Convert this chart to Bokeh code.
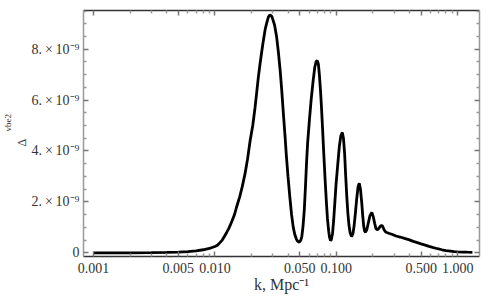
import math
from bokeh.plotting import figure
from bokeh.models import FixedTicker, LogAxis, LinearAxis, Range1d, Title
from bokeh.embed import file_html
from bokeh.resources import INLINE

# wavenumber k [Mpc^-1]
k_values = [0.001, 0.002, 0.003, 0.004, 0.005, 0.006, 0.007, 0.008, 0.009, 0.010,
            0.0105, 0.011, 0.0115, 0.012, 0.0125, 0.013, 0.0137, 0.0145, 0.0152, 0.016,
            0.0168, 0.0177, 0.0186, 0.0195, 0.0205, 0.0214, 0.0221, 0.0228, 0.0235, 0.0243,
            0.025, 0.026, 0.0268, 0.0276, 0.0284, 0.0295, 0.031, 0.0322, 0.0333, 0.0345,
            0.0355, 0.0366, 0.0377, 0.0388, 0.040, 0.0414, 0.0428, 0.0442, 0.0455, 0.0468,
            0.048, 0.0495, 0.051, 0.052, 0.0532, 0.0545, 0.0557, 0.0568, 0.058, 0.060,
            0.062, 0.0644, 0.0665, 0.0683, 0.0698, 0.0712, 0.0725, 0.074, 0.0753, 0.077,
            0.079, 0.081, 0.0828, 0.0845, 0.0865, 0.088, 0.0897, 0.091, 0.093, 0.095,
            0.097, 0.0995, 0.1033, 0.106, 0.109, 0.112, 0.1145, 0.117, 0.1195, 0.122,
            0.1245, 0.127, 0.130, 0.1335, 0.137, 0.140, 0.1435, 0.147, 0.151, 0.1545,
            0.158, 0.162, 0.165, 0.168, 0.171, 0.174, 0.178, 0.183, 0.189, 0.196,
            0.202, 0.207, 0.212, 0.217, 0.223, 0.230, 0.236, 0.240, 0.246, 0.252,
            0.257, 0.27, 0.29, 0.31, 0.335, 0.364, 0.40, 0.43, 0.465, 0.498,
            0.54, 0.58, 0.63, 0.682, 0.74, 0.8, 0.87, 0.933, 1.0, 1.1,
            1.2, 1.32]
# Delta_vbe^2 in units of 1e-9
delta_values_e9 = [0.0, 0.0, 0.005, 0.015, 0.03, 0.05, 0.08, 0.12, 0.17, 0.25,
                   0.30, 0.40, 0.50, 0.65, 0.80, 0.95, 1.2, 1.5, 1.85, 2.2,
                   2.6, 3.1, 3.7, 4.4, 5.0, 5.7, 6.3, 6.9, 7.4, 7.9,
                   8.3, 8.8, 9.05, 9.27, 9.35, 9.28, 8.95, 8.5, 7.9, 7.15,
                   6.4, 5.5, 4.67, 3.8, 3.0, 2.2, 1.5, 1.0, 0.72, 0.55,
                   0.45, 0.42, 0.5, 0.65, 1.05, 1.7, 2.6, 3.5, 4.3, 5.2,
                   6.0, 6.75, 7.3, 7.52, 7.55, 7.4, 7.0, 6.4, 5.8, 4.9,
                   3.8, 2.8, 2.0, 1.35, 0.85, 0.6, 0.48, 0.52, 0.75, 1.25,
                   1.9, 2.7, 3.6, 4.2, 4.6, 4.73, 4.5, 3.9, 3.0, 2.2,
                   1.55, 1.1, 0.78, 0.64, 0.75, 1.05, 1.55, 2.1, 2.6, 2.73,
                   2.5, 1.95, 1.45, 1.05, 0.85, 0.81, 0.9, 1.15, 1.45, 1.59,
                   1.4, 1.15, 0.95, 0.9, 0.95, 1.04, 1.07, 1.05, 0.93, 0.84,
                   0.81, 0.77, 0.72, 0.66, 0.62, 0.57, 0.51, 0.45, 0.40, 0.35,
                   0.30, 0.25, 0.20, 0.16, 0.12, 0.09, 0.07, 0.05, 0.04, 0.03,
                   0.025, 0.02]

x_major = [0.001, 0.005, 0.01, 0.05, 0.1, 0.5, 1.0]
x_major_labels = ["0.001", "0.005", "0.010", "0.050", "0.100", "0.500", "1.000"]
x_minor_mult = [2, 3, 4, 6, 7, 8, 9]
x_decades = [-3, -2, -1, 0]
y_major = [0, 2, 4, 6, 8]
y_major_labels = ["0", "2.\u2009×\u200910⁻⁹", "4.\u2009×\u200910⁻⁹",
                  "6.\u2009×\u200910⁻⁹", "8.\u2009×\u200910⁻⁹"]
y_minor = [0.5, 1, 1.5, 2.5, 3, 3.5, 4.5, 5, 5.5, 6.5, 7, 7.5, 8.5, 9, 9.5]

x_minor = [m * 10.0 ** e for e in x_decades for m in x_minor_mult]

FONT = "Liberation Serif"
TXT = "#333333"

p = figure(width=490, height=300, x_axis_type="log",
           x_range=Range1d(0.000828, 1.51), y_range=Range1d(-0.145, 9.52),
           output_backend="svg", toolbar_location=None,
           min_border_left=81, min_border_right=11, min_border_top=10, min_border_bottom=44)
p.grid.visible = False
p.outline_line_color = None

p.line(k_values, delta_values_e9, line_color="black", line_width=2.8)

xt = FixedTicker(ticks=x_major, minor_ticks=x_minor)
yt = FixedTicker(ticks=y_major, minor_ticks=y_minor)

tick_kw = dict(major_tick_in=5, major_tick_out=0, minor_tick_in=3, minor_tick_out=0,
               major_tick_line_color="#777777", minor_tick_line_color="#999999",
               major_tick_line_width=1.5, minor_tick_line_width=1.5, axis_line_width=1.5)

xa = p.xaxis[0]
xa.ticker = xt
xa.major_label_overrides = {t: s for t, s in zip(x_major, x_major_labels)}
xa.axis_label = "k, Mpc⁻¹"
xa.axis_line_color = "#333333"
xa.major_label_standoff = 6
xa.axis_label_standoff = 0
xa.major_label_text_font = FONT
xa.major_label_text_font_size = "14px"
xa.major_label_text_color = TXT
xa.axis_label_text_font = FONT
xa.axis_label_text_font_style = "normal"
xa.axis_label_text_font_size = "16px"
xa.axis_label_text_color = TXT
for k, v in tick_kw.items():
    setattr(xa, k, v)

ya = p.yaxis[0]
ya.ticker = yt
ya.major_label_overrides = {t: s for t, s in zip(y_major, y_major_labels)}
ya.axis_line_color = "#999999"
ya.major_label_standoff = 4
ya.major_label_text_font = FONT
ya.major_label_text_font_size = "14px"
ya.major_label_text_color = TXT
for k, v in tick_kw.items():
    setattr(ya, k, v)

top = LogAxis(ticker=xt, axis_line_color="#333333", major_label_standoff=0,
              major_label_text_font_size="0px", **tick_kw)
top.major_label_overrides = {t: "" for t in x_major}
p.add_layout(top, "above")

right = LinearAxis(ticker=yt, axis_line_color="#999999", major_label_standoff=0,
                   major_label_text_font_size="0px", **tick_kw)
right.major_label_overrides = {t: "" for t in y_major}
p.add_layout(right, "right")

# y axis label: Delta_vbe^2 as side titles
p.add_layout(Title(text="Δ", align="left", offset=110, standoff=0, text_font=FONT,
                   text_font_size="12px", text_font_style="normal", text_color=TXT), "left")
p.add_layout(Title(text="vbe2", align="left", offset=125, standoff=0, text_font=FONT,
                   text_font_size="9px", text_font_style="normal", text_color=TXT), "left")

open("out.html", "w").write(file_html(p, INLINE))
